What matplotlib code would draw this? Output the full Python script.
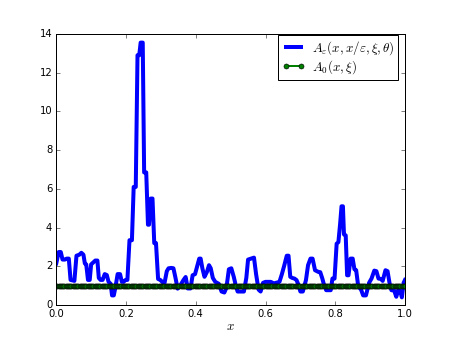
import numpy as np
import matplotlib
matplotlib.use("Agg")
import matplotlib.pyplot as plt

# ---------------------------------------------------------------------------
# Datos
# ---------------------------------------------------------------------------
x_eps = [0.0, 0.007, 0.013, 0.018, 0.025, 0.03, 0.036, 0.041, 0.052, 0.058,
         0.066, 0.072, 0.078, 0.082, 0.086, 0.091, 0.096, 0.1, 0.106, 0.112,
         0.118, 0.122, 0.127, 0.133, 0.139, 0.145, 0.15, 0.156, 0.16, 0.165,
         0.17, 0.176, 0.183, 0.188, 0.193, 0.199, 0.204, 0.21, 0.217, 0.222,
         0.228, 0.233, 0.238, 0.242, 0.248, 0.252, 0.258, 0.263, 0.266, 0.271,
         0.276, 0.281, 0.286, 0.292, 0.298, 0.304, 0.31, 0.317, 0.322, 0.33,
         0.336, 0.342, 0.348, 0.354, 0.36, 0.365, 0.371, 0.377, 0.385, 0.391,
         0.398, 0.404, 0.41, 0.414, 0.419, 0.425, 0.432, 0.438, 0.443, 0.449,
         0.456, 0.466, 0.474, 0.482, 0.488, 0.495, 0.502, 0.509, 0.515, 0.52,
         0.538, 0.545, 0.55, 0.567, 0.573, 0.58, 0.586, 0.593, 0.6, 0.615,
         0.624, 0.64, 0.647, 0.654, 0.661, 0.666, 0.671, 0.677, 0.683, 0.689,
         0.695, 0.7, 0.707, 0.716, 0.722, 0.729, 0.735, 0.742, 0.752, 0.757,
         0.763, 0.768, 0.774, 0.787, 0.792, 0.798, 0.804, 0.809, 0.814, 0.818,
         0.822, 0.825, 0.83, 0.834, 0.838, 0.844, 0.85, 0.855, 0.86, 0.866,
         0.874, 0.88, 0.888, 0.897, 0.904, 0.912, 0.918, 0.924, 0.931, 0.936,
         0.944, 0.95, 0.956, 0.961, 0.969, 0.975, 0.981, 0.986, 0.991, 0.996,
         1.0]
a_eps = [2.15, 2.74, 2.74, 2.35, 2.35, 2.4, 2.4, 1.3, 1.25, 2.55,
         2.6, 2.7, 2.6, 2.15, 2.1, 1.3, 1.3, 2.1, 2.2, 2.3,
         2.3, 1.4, 1.3, 1.3, 1.6, 1.55, 1.2, 1.1, 0.5, 0.5,
         0.95, 1.6, 1.6, 1.2, 1.2, 1.3, 1.3, 3.35, 3.35, 6.1,
         6.1, 12.9, 12.9, 13.55, 13.55, 6.85, 6.85, 4.15, 4.15, 5.5,
         5.5, 3.2, 3.2, 1.35, 1.3, 1.2, 1.1, 1.75, 1.9, 1.92,
         1.9, 1.4, 0.85, 0.95, 1.15, 1.3, 1.45, 0.86, 0.86, 1.54,
         1.6, 2.0, 2.4, 2.4, 1.9, 1.46, 1.71, 2.06, 1.9, 1.4,
         1.2, 1.1, 0.7, 0.65, 0.9, 1.85, 1.9, 1.46, 1.0, 0.7,
         0.7, 1.4, 2.35, 2.45, 1.6, 0.8, 0.7, 1.15, 1.2, 1.2,
         1.12, 1.2, 1.6, 2.06, 2.55, 2.55, 1.46, 1.4, 1.37, 1.29,
         1.03, 0.7, 0.7, 1.29, 2.06, 2.4, 2.4, 1.8, 1.71, 1.7,
         1.37, 1.03, 0.77, 0.77, 1.37, 1.37, 3.17, 3.25, 4.2, 5.1,
         5.1, 3.65, 3.6, 1.54, 1.54, 2.4, 2.4, 1.85, 1.8, 0.95,
         0.8, 0.5, 0.5, 1.15, 1.37, 1.78, 1.75, 1.37, 1.35, 1.25,
         1.8, 1.75, 1.1, 0.77, 0.75, 0.43, 0.8, 0.75, 0.4, 1.15,
         1.3]

# Solución homogeneizada: constante
N_HOM = 301
A0_VALOR = 1.0
x_hom = np.linspace(0.0, 1.0, N_HOM)
a_hom = np.full(N_HOM, A0_VALOR)

# ---------------------------------------------------------------------------
# Figura
# ---------------------------------------------------------------------------
plt.style.use("classic")
DPI = 72
fig = plt.figure(figsize=(450 / DPI, 339 / DPI), dpi=DPI, facecolor="white")
ax = fig.add_subplot(111)

ax.plot(x_eps, a_eps, "b-", lw=4,
        label=r"$A_\varepsilon(x,x/\varepsilon,\xi,\theta)$")
ax.plot(x_hom, a_hom, "g-o", lw=2, ms=5, mew=0.6,
        label=r"$A_0(x,\xi)$")

ax.set_xlim(0, 1)
ax.set_ylim(0, 14)
ax.tick_params(labelsize=10)
ax.set_xlabel(r"$x$", fontsize=13, labelpad=1)
ax.legend(loc="upper right", bbox_to_anchor=(0.98, 0.996), borderaxespad=0,
          fontsize=13, labelspacing=0.1, borderpad=0.3, handlelength=1.8,
          handletextpad=0.5)

fig.savefig("out.png", dpi=DPI, facecolor="white")
